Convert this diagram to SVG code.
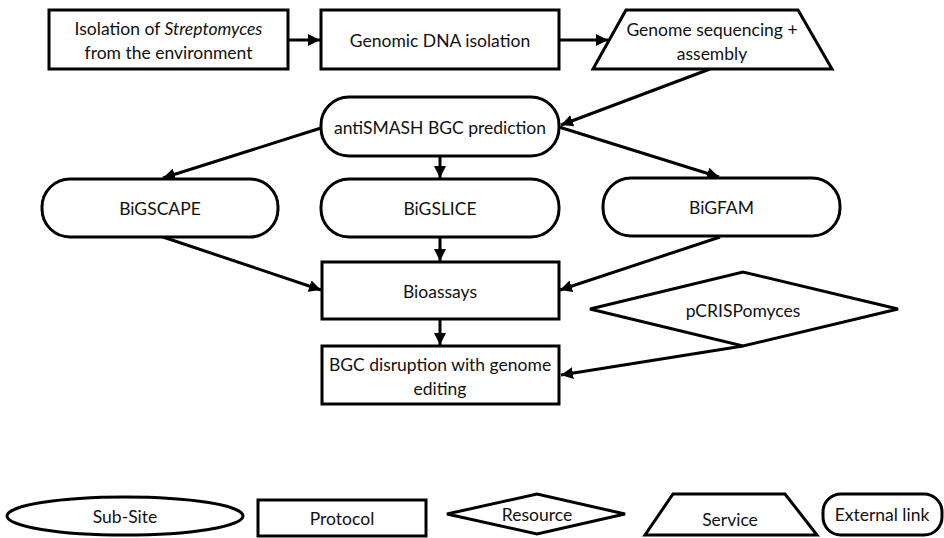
<svg xmlns="http://www.w3.org/2000/svg" width="944" height="538" viewBox="0 0 944 538">
<style>
.n{fill:#fff;stroke:#000;stroke-width:3}
.c{fill:none;stroke:#000;stroke-width:3}
text{font-family:Lato,"Liberation Sans",sans-serif;font-size:17.5px;fill:#111;text-anchor:middle;dominant-baseline:central}
.lg{font-size:17.5px}
</style>
<defs>
<marker id="ah" viewBox="0 0 10 10" refX="10" refY="5" markerWidth="4" markerHeight="4" markerUnits="strokeWidth" orient="auto">
<path d="M0,0 L10,5 L0,10 z" fill="#000"/>
</marker>
</defs>
<rect width="944" height="538" fill="#fff"/>
<g id="connectors" class="c" marker-end="url(#ah)">
<line x1="288" y1="40" x2="320" y2="40"/>
<line x1="559" y1="40" x2="608" y2="40"/>
<line x1="710" y1="69" x2="561" y2="125"/>
<line x1="321" y1="128" x2="163" y2="178"/>
<line x1="440" y1="156" x2="440" y2="178"/>
<line x1="559" y1="127" x2="719" y2="177"/>
<line x1="163" y1="237" x2="321" y2="290"/>
<line x1="440" y1="237" x2="440" y2="261"/>
<line x1="720" y1="237" x2="560" y2="290"/>
<line x1="440" y1="319" x2="440" y2="345"/>
<line x1="743" y1="346" x2="561" y2="375"/>
</g>
<g id="isolation">
<rect class="n" x="49" y="10" width="239" height="59"/>
<text x="168.5" y="28">Isolation of <tspan font-style="italic">Streptomyces</tspan></text>
<text x="168.5" y="52">from the environment</text>
</g>
<g id="dna">
<rect class="n" x="321" y="10" width="238" height="59"/>
<text x="440" y="40">Genomic DNA isolation</text>
</g>
<g id="sequencing">
<path class="n" d="M626,10 L798,10 L832,69 L593,69 Z"/>
<text x="712" y="29">Genome sequencing +</text>
<text x="712" y="53">assembly</text>
</g>
<g id="antismash">
<rect class="n" x="321" y="97" width="238" height="59" rx="28" ry="28"/>
<text x="440" y="127">antiSMASH BGC prediction</text>
</g>
<g id="bigscape">
<rect class="n" x="42" y="179" width="236" height="58" rx="28" ry="28"/>
<text x="160" y="208">BiGSCAPE</text>
</g>
<g id="bigslice">
<rect class="n" x="321" y="179" width="238" height="58" rx="28" ry="28"/>
<text x="440" y="208">BiGSLICE</text>
</g>
<g id="bigfam">
<rect class="n" x="603" y="178" width="237" height="58" rx="28" ry="28"/>
<text x="721.5" y="207">BiGFAM</text>
</g>
<g id="bioassays">
<rect class="n" x="322" y="262" width="237" height="57"/>
<text x="440" y="291">Bioassays</text>
</g>
<g id="pcrispomyces">
<path class="n" d="M590,309 L743,272 L898,309 L743,346 Z"/>
<text x="743" y="310">pCRISPomyces</text>
</g>
<g id="disruption">
<rect class="n" x="322" y="346" width="237" height="58"/>
<text x="440" y="364">BGC disruption with genome</text>
<text x="440" y="388">editing</text>
</g>
<g id="legend-subsite">
<ellipse class="n" cx="125" cy="516" rx="118" ry="19"/>
<text class="lg" x="125" y="516">Sub-Site</text>
</g>
<g id="legend-protocol">
<rect class="n" x="258" y="500" width="168" height="36"/>
<text class="lg" x="342" y="518">Protocol</text>
</g>
<g id="legend-resource">
<path class="n" d="M447,514 L537,494 L625,514 L537,534 Z"/>
<text class="lg" x="537" y="514">Resource</text>
</g>
<g id="legend-service">
<path class="n" d="M673,494 L785,494 L817,535 L645,535 Z"/>
<text class="lg" x="730" y="519">Service</text>
</g>
<g id="legend-external">
<rect class="n" x="823" y="494" width="119" height="41" rx="18" ry="18"/>
<text class="lg" x="882" y="514">External link</text>
</g>
</svg>
